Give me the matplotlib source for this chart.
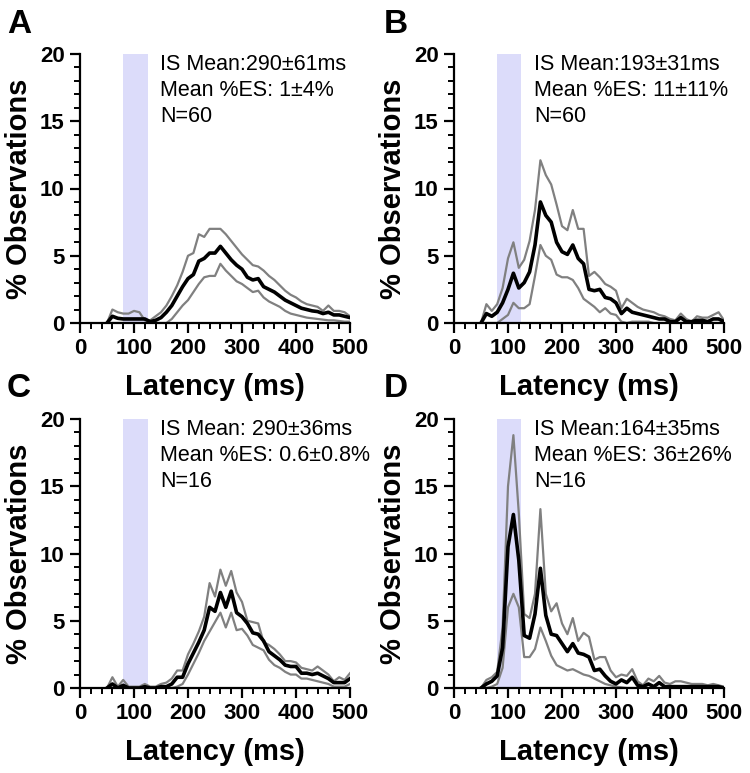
import numpy as np
import matplotlib
matplotlib.use("Agg")
import matplotlib.pyplot as plt
from matplotlib.ticker import MultipleLocator

plt.rcParams['font.family'] = ['Liberation Sans', 'DejaVu Sans']

# latency bins (ms)
latency = np.arange(50, 501, 10)

# panel A
a_mean = [0, 0.5, 0.35, 0.3, 0.3, 0.3, 0.3, 0.3, 0.1, 0.2, 0.4, 0.8, 1.3, 2.0, 2.7, 3.3, 3.6, 4.6, 4.8,
          5.2, 5.2, 5.7, 5.2, 4.7, 4.3, 4.0, 3.4, 3.2, 3.3, 2.7, 2.5, 2.3, 2.0, 1.7, 1.5, 1.3, 1.1, 1.0,
          0.9, 0.85, 0.7, 0.8, 0.6, 0.6, 0.5, 0.4]
a_upper = [0, 1.0, 0.8, 0.7, 0.7, 0.9, 0.8, 0.2, 0.2, 0.5, 0.8, 1.3, 2.0, 2.8, 3.8, 5.0, 5.2, 6.6, 6.4,
           7.0, 7.0, 7.0, 6.6, 6.1, 5.6, 5.1, 4.7, 4.3, 4.2, 3.9, 3.5, 3.2, 2.8, 2.4, 2.1, 1.9, 1.6, 1.4,
           1.3, 1.2, 0.9, 1.3, 0.9, 0.9, 0.8, 0.5]
a_lower = [0, 0, 0, 0, 0, 0, 0, 0, 0, 0, 0, 0, 0.3, 0.8, 1.3, 1.7, 2.3, 2.9, 3.4, 3.5, 3.5, 4.4, 3.9,
           3.5, 3.1, 2.9, 2.6, 2.3, 2.4, 1.9, 1.6, 1.4, 1.2, 0.9, 0.7, 0.6, 0.5, 0.4, 0.35, 0.3, 0.25,
           0.2, 0.2, 0.15, 0.1, 0.1]

# panel B
b_mean = [0, 0.7, 0.5, 0.8, 1.5, 2.5, 3.7, 2.6, 3.0, 3.8, 5.8, 9.0, 8.0, 7.5, 6.0, 5.3, 5.1, 5.8, 4.8,
          4.4, 2.5, 2.4, 2.5, 1.9, 1.8, 1.5, 0.7, 1.1, 0.8, 0.7, 0.6, 0.5, 0.4, 0.3, 0.3, 0.1, 0.1, 0.4,
          0.1, 0.1, 0.2, 0.2, 0.1, 0.3, 0.3, 0.1]
b_upper = [0, 1.4, 0.9, 1.4, 2.6, 4.8, 6.0, 4.1, 4.7, 6.1, 8.4, 12.1, 11.0, 10.3, 8.8, 7.2, 6.9, 8.4,
           7.0, 7.0, 3.5, 3.8, 3.4, 2.9, 2.7, 2.4, 1.1, 1.8, 1.5, 1.2, 1.0, 0.9, 0.8, 0.6, 0.5, 0.3, 0.2,
           0.7, 0.3, 0.1, 0.5, 0.4, 0.4, 0.6, 0.8, 0.2]
b_lower = [0, 0, 0, 0, 0.3, 0.6, 1.5, 1.1, 1.1, 1.4, 3.5, 5.8, 5.0, 4.7, 3.6, 3.4, 3.4, 3.2, 2.6, 1.8,
           1.5, 1.2, 0.8, 1.1, 0.7, 0.6, 0.1, 0, 0.1, 0.1, 0.1, 0.1, 0, 0, 0, 0, 0, 0, 0, 0, 0, 0, 0,
           0, 0, 0]

# panel C
c_mean = [0, 0.3, 0, 0.2, 0, 0, 0, 0.1, 0, 0, 0.1, 0.1, 0.3, 0.8, 0.8, 1.8, 2.6, 3.4, 4.3, 6.0, 5.7,
          7.1, 6.0, 7.2, 5.6, 5.3, 4.8, 4.1, 4.0, 3.5, 2.7, 2.4, 2.1, 1.7, 1.6, 1.6, 1.1, 1.1, 1.0,
          1.1, 0.9, 0.7, 0.4, 0.4, 0.4, 0.7]
c_upper = [0, 0.8, 0.1, 0.6, 0.1, 0.1, 0.1, 0.3, 0.1, 0.1, 0.3, 0.4, 0.7, 1.3, 1.3, 2.5, 3.3, 4.2, 5.3,
           7.8, 6.8, 8.8, 7.6, 8.7, 7.1, 6.4, 5.0, 4.9, 4.8, 3.4, 3.2, 2.9, 2.5, 2.0, 2.0, 1.9, 1.5, 1.4,
           1.3, 1.6, 1.3, 1.0, 0.5, 0.8, 0.6, 1.1]
c_lower = [0, 0, 0, 0, 0, 0, 0, 0, 0, 0, 0, 0, 0, 0.1, 0.3, 1.0, 1.8, 2.6, 3.5, 4.2, 4.9, 5.6, 4.5,
           5.6, 4.3, 4.4, 3.9, 3.2, 3.0, 2.8, 2.1, 1.7, 1.5, 1.2, 1.0, 1.0, 0.7, 0.7, 0.6, 0.5, 0.4,
           0.3, 0.1, 0.1, 0.1, 0.3]

# panel D
d_mean = [0, 0.3, 0.5, 0.9, 3.0, 10.5, 12.9, 9.5, 3.9, 3.7, 5.5, 8.9, 5.4, 4.0, 3.9, 3.3, 2.7, 3.3,
          2.6, 2.5, 2.3, 1.3, 1.4, 0.9, 0.5, 0.3, 0.6, 0.4, 0.8, 0.2, 0.1, 0.3, 0.1, 0.4, 0.1, 0.1,
          0.1, 0.1, 0.1, 0.1, 0.1, 0.1, 0.1, 0.1, 0.1, 0]
d_upper = [0, 0.6, 0.8, 1.2, 4.5, 15.0, 18.8, 13.0, 5.5, 5.2, 7.0, 13.3, 7.0, 5.7, 6.3, 4.8, 4.0, 5.2,
           3.5, 4.1, 3.8, 2.1, 2.3, 2.3, 1.3, 0.8, 1.0, 0.9, 1.4, 0.5, 0.2, 0.7, 0.5, 0.9, 0.4, 0.3,
           0.5, 0.5, 0.4, 0.3, 0.3, 0.3, 0.2, 0.3, 0.2, 0.1]
d_lower = [0, 0, 0.1, 0.3, 1.5, 6.0, 7.0, 6.0, 2.3, 2.3, 2.9, 4.5, 3.5, 2.4, 1.7, 1.5, 1.3, 1.4, 1.2,
           1.0, 0.9, 0.7, 0.5, 0.3, 0.2, 0.1, 0.05, 0, 0, 0, 0, 0, 0, 0, 0, 0, 0, 0, 0, 0, 0, 0, 0, 0,
           0, 0]

letters = ['A', 'B', 'C', 'D']
notes = ["IS Mean:290\u00b161ms\nMean %ES: 1\u00b14%\nN=60",
         "IS Mean:193\u00b131ms\nMean %ES: 11\u00b111%\nN=60",
         "IS Mean: 290\u00b136ms\nMean %ES: 0.6\u00b10.8%\nN=16",
         "IS Mean:164\u00b135ms\nMean %ES: 36\u00b126%\nN=16"]
series = [(a_mean, a_upper, a_lower), (b_mean, b_upper, b_lower),
          (c_mean, c_upper, c_lower), (d_mean, d_upper, d_lower)]

W, H = 750, 773
fig = plt.figure(figsize=(W / 100, H / 100), dpi=100)

# axes boxes in pixels (left, top, right, bottom)
boxes = [(80, 54, 350, 323), (454, 54, 724, 323), (80, 419, 350, 688), (454, 419, 724, 688)]
letter_pos = [(7, 9), (384, 9), (7, 373), (384, 373)]

for i in range(4):
    l, t, r, b = boxes[i]
    ax = fig.add_axes([l / W, 1 - b / H, (r - l) / W, (b - t) / H])
    ax.axvspan(80, 125, color='#dcdcfa', lw=0, zorder=0)
    mean, up, lo = series[i]
    ax.plot(latency, up, color='#808080', lw=1.6, zorder=2)
    ax.plot(latency, lo, color='#808080', lw=1.6, zorder=2)
    ax.plot(latency, mean, color='black', lw=2.6, zorder=3)
    ax.set_xlim(0, 500)
    ax.set_ylim(0, 20)
    ax.spines['top'].set_visible(False)
    ax.spines['right'].set_visible(False)
    for s in ['left', 'bottom']:
        ax.spines[s].set_linewidth(1.6)
    ax.xaxis.set_major_locator(MultipleLocator(100))
    ax.xaxis.set_minor_locator(MultipleLocator(20))
    ax.yaxis.set_major_locator(MultipleLocator(5))
    ax.yaxis.set_minor_locator(MultipleLocator(1))
    ax.tick_params(which='major', length=7, width=1.6, direction='out', labelsize=16, pad=4)
    ax.tick_params(which='minor', length=4, width=1.4, direction='out')
    for lab in ax.get_xticklabels() + ax.get_yticklabels():
        lab.set_fontweight('bold')
    ax.set_xlabel('Latency (ms)', fontsize=21, fontweight='bold', labelpad=10)
    ax.set_ylabel('% Observations', fontsize=21, fontweight='bold', labelpad=5)
    ax.text(148, 20.0, notes[i], fontsize=15.5, va='top', ha='left', linespacing=1.3)
    fig.text(letter_pos[i][0] / W, 1 - letter_pos[i][1] / H, letters[i], fontsize=24,
             fontweight='bold', va='top', ha='left')

fig.savefig('out.png', dpi=100)
